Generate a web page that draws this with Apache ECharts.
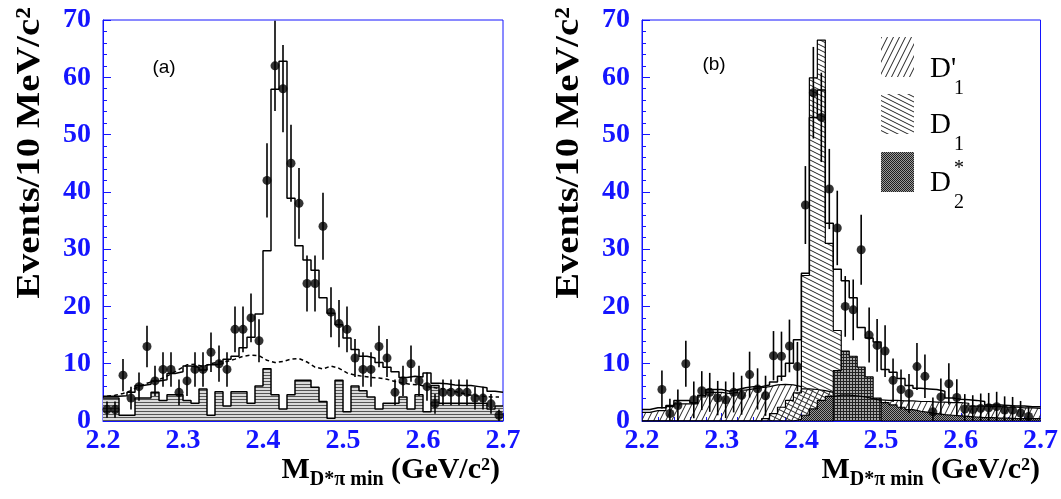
<!DOCTYPE html>
<html>
<head>
<meta charset="utf-8">
<script src="https://cdn.jsdelivr.net/npm/echarts@6/dist/echarts.min.js"></script>
<style>
  html, body { margin: 0; padding: 0; background: #fff; }
  #chart { width: 1061px; height: 499px; }
</style>
</head>
<body>
<div id="chart"></div>
<script>
// 50 bins of 10 MeV between 2.2 and 2.7 GeV/c^2
const binLow = Array.from({ length: 50 }, (_, i) => +(2.2 + 0.01 * i).toFixed(2));
const yTicks = [0, 10, 20, 30, 40, 50, 60, 70];
const xTicks = [2.2, 2.3, 2.4, 2.5, 2.6, 2.7];

// panel (a)
const dataA = [2, 2, 8, 4, 6, 13, 7, 9, 9, 5, 7, 9, 9, 12, 10, 9, 16, 16, 18, 14,
  42, 62, 58, 45, 38, 24, 24, 34, 19, 17, 16, 11, 9, 9, 13, 11, 5, 7, 10, 7,
  6, 3, 5, 5, 5, 5, 4, 4, 3, 1];
const fitA = [4.3, 4.3, 4.4, 5.0, 6.2, 6.4, 7.0, 7.2, 8.3, 8.6, 9.6, 9.4, 8.9, 9.8, 10.0, 10.8, 11.3, 12.8, 14.6, 18.7,
  29.7, 57.9, 62.8, 38.9, 30.6, 28.1, 26.3, 21.5, 18.8, 16.8, 14.5, 12.5, 11.3, 11.0, 10.2, 9.4, 8.6, 7.6, 7.8, 7.7,
  8.4, 6.6, 6.5, 6.3, 6.2, 6.2, 6.0, 5.8, 5.2, 5.0];
const dashA = [4.3, 4.5, 4.8, 5.3, 6.0, 6.6, 7.0, 7.5, 8.2, 9.0, 9.8, 9.9, 9.5, 10.0, 10.3, 10.4, 10.8, 11.3, 11.5, 11.4,
  10.6, 10.2, 10.4, 10.8, 10.9, 10.3, 9.4, 9.1, 9.6, 9.2, 8.4, 8.0, 7.8, 7.6, 7.5, 7.3, 6.9, 6.6, 6.4, 6.3,
  6.0, 5.8, 5.6, 5.3, 5.0, 4.6, 4.4, 4.3, 4.2, 4.2];
const sideA = [4, 4, 1, 1, 4, 4, 5, 3.6, 4.6, 4.6, 3.6, 3.1, 5.6, 1, 5.1, 2.6, 5.1, 5.1, 3.1, 6.1,
  9.1, 4.6, 2.1, 4.6, 7.1, 7.1, 5.9, 3.4, 0.5, 7.1, 1.6, 6.1, 5.3, 4.2, 2.1, 3.1, 3.1, 4.2, 2.1, 4.6,
  1.6, 6.2, 3.1, 3.1, 3.1, 3.1, 3.1, 3.1, 2.1, 2.6];
const errA = dataA.map(Math.sqrt);

// panel (b)
const dataB = [null, null, 5.5, 1.3, 2.7, 10, 3.7, 5.3, 5.0, 4.0, 3.7, 5.0, 4.5, 8.1, 5.6, 4.4, 11.4, 11.3, 13.1, 9.5,
  37.7, 57.3, 53.0, 40.5, 33.7, 20.0, 19.4, 29.9, 15.0, 13.2, 12.2, 7.1, 5.5, 4.8, 9.5, 7.8, 1.6, 4.2, 6.5, 4.1,
  2.1, 2.0, 2.2, 2.3, 2.5, 1.9, 1.9, 1.4, 0.8, null];
const errB = [null, null, 3.3, 2.6, 2.8, 4.0, 3.2, 3.4, 3.4, 3.0, 3.2, 3.5, 3.4, 4.0, 3.6, 3.5, 4.3, 4.3, 4.6, 4.3,
  6.8, 8.0, 7.8, 7.0, 6.5, 5.3, 5.3, 6.1, 4.8, 4.6, 4.5, 3.8, 3.5, 3.4, 4.1, 3.8, 2.5, 3.2, 3.6, 3.2,
  2.6, 2.5, 2.6, 2.6, 2.6, 2.4, 2.3, 2.1, 1.6, null];
const fitB = [2.0, 2.3, 2.3, 2.7, 3.6, 3.6, 3.2, 4.5, 5.5, 5.5, 5.2, 5.5, 5.8, 6.0, 6.0, 6.3, 6.8, 7.8, 10.1, 14.2,
  25.8, 53.0, 57.8, 34.5, 26.5, 24.5, 21.5, 16.3, 14.5, 13.8, 9.0, 8.5, 7.4, 6.2, 5.7, 5.6, 5.5, 5.2, 4.0, 3.8,
  3.7, 3.6, 3.4, 2.8, 2.8, 2.7, 2.6, 2.6, 2.5, 2.5];
const d1PrimeB = [1.5, 1.8, 1.8, 2.5, 3.0, 3.0, 3.0, 4.2, 5.0, 5.0, 4.8, 5.0, 5.4, 5.6, 5.8, 6.0, 6.3, 6.4, 6.3, 6.0,
  5.6, 5.5, 5.3, 5.0, 4.6, 4.3, 4.0, 3.9, 3.8, 3.7, 3.6, 3.6, 3.5, 3.5, 3.4, 3.4, 3.3, 3.3, 3.2, 3.2,
  3.1, 2.6, 2.6, 2.5, 2.5, 2.4, 2.4, 2.3, 2.3, 2.2];
const d1B = [0, 0, 0, 0, 0, 0, 0, 0, 0, 0, 0, 0, 0, 0, 0, 0.4, 1.3, 2.4, 3.6, 4.9,
  25.4, 59.9, 66.5, 31.0, 15.8, 4.0, 2.5, 1.8, 1.3, 1.0, 0.8, 0.6, 0.5, 0.4, 0.4, 0.3, 0.3, 0.3, 0.2, 0.2,
  0.2, 0.2, 0.2, 0.2, 0.2, 0.2, 0.2, 0.2, 0.2, 0.2];
const d2BroadB = [0, 0, 0, 0, 0, 0, 0, 0, 0, 0, 0, 0, 0, 0, 0, 0, 0, 0, 0, 0.3,
  1.0, 2.1, 3.6, 4.3, 4.5, 4.5, 4.4, 4.2, 3.9, 3.6, 3.2, 2.8, 2.4, 2.0, 1.7, 1.5, 1.3, 1.1, 1.0, 0.9,
  0.8, 0.7, 0.6, 0.6, 0.5, 0.5, 0.4, 0.4, 0.4, 0.4];
const d2PeakB = [0, 0, 0, 0, 0, 0, 0, 0, 0, 0, 0, 0, 0, 0, 0, 0, 0, 0, 0, 0,
  0, 0, 0, 0, 8.8, 12.2, 11.3, 9.4, 7.7, 4.0, 0, 0, 0, 0, 0, 0, 0, 0, 0, 0,
  0, 0, 0, 0, 0, 0, 0, 0, 0, 0];

const BLUE = '#1414ff';
const SERIF = '"Liberation Serif", "DejaVu Serif", serif';

// hatch patterns drawn on small canvases
function pattern(w, h, paint) {
  const c = document.createElement('canvas');
  c.width = w; c.height = h;
  paint(c.getContext('2d'), w, h);
  return { image: c, repeat: 'repeat' };
}
const grayFill = pattern(4, 3, (g, w, h) => {
  g.fillStyle = '#dadada'; g.fillRect(0, 0, w, h);
  g.fillStyle = '#555'; g.fillRect(0, 0, w, 1);
});
const slashFill = pattern(6, 12, (g, w, h) => {
  g.strokeStyle = '#222'; g.lineWidth = 1; g.beginPath();
  for (const o of [-w, 0, w]) { g.moveTo(o, h); g.lineTo(o + w, 0); }
  g.stroke();
});
const backFill = pattern(10, 5, (g, w, h) => {
  g.strokeStyle = '#222'; g.lineWidth = 1; g.beginPath();
  for (const o of [-h, 0, h]) { g.moveTo(0, o); g.lineTo(w, o + h); }
  g.stroke();
});
const darkFine = pattern(2, 2, (g) => {
  g.fillStyle = '#9a9a9a'; g.fillRect(0, 0, 2, 2);
  g.fillStyle = '#1e1e1e'; g.fillRect(0, 0, 1, 1); g.fillRect(1, 1, 1, 1);
});
const darkGrid = pattern(3, 3, (g) => {
  g.fillStyle = '#a8a8a8'; g.fillRect(0, 0, 3, 3);
  g.fillStyle = '#222'; g.fillRect(0, 0, 3, 1); g.fillRect(0, 0, 1, 3);
});

function hist(vals, gi, fill, z, width) {
  const pts = binLow.map((x, i) => [x, vals[i]]);
  pts.push([2.7, vals[vals.length - 1]]);
  return {
    type: 'line', xAxisIndex: gi, yAxisIndex: gi, step: 'end', data: pts,
    symbol: 'none', silent: true, z: z,
    lineStyle: { color: '#000', width: width || 1.5 },
    areaStyle: fill ? { color: fill, opacity: 1 } : undefined
  };
}

function dashed(vals, gi) {
  return {
    type: 'line', xAxisIndex: gi, yAxisIndex: gi, data: binLow.map((x, i) => [x + 0.005, vals[i]]),
    symbol: 'none', silent: true, z: 6,
    lineStyle: { color: '#000', width: 1.5, type: [4, 3] }
  };
}

function points(vals, errs, gi) {
  const d = [];
  vals.forEach((v, i) => { if (v != null) d.push([binLow[i] + 0.005, v, errs[i]]); });
  return [{
    type: 'custom', xAxisIndex: gi, yAxisIndex: gi, data: d, clip: true, z: 8, silent: true,
    encode: { x: 0, y: 1 },
    renderItem: (p, api) => {
      const a = api.coord([api.value(0), api.value(1) - api.value(2)]);
      const b = api.coord([api.value(0), api.value(1) + api.value(2)]);
      return { type: 'line', shape: { x1: a[0], y1: a[1], x2: b[0], y2: b[1] },
        style: { stroke: '#000', lineWidth: 1.6 } };
    }
  }, {
    type: 'scatter', xAxisIndex: gi, yAxisIndex: gi, data: d.map(q => [q[0], q[1]]),
    symbolSize: 9, itemStyle: { color: '#000' }, z: 9, silent: true
  }];
}

const tickLabel = { color: BLUE, fontFamily: SERIF, fontWeight: 'bold', fontSize: 28 };
function xAxis(gi) {
  return {
    type: 'value', gridIndex: gi, min: xTicks[0], max: xTicks[xTicks.length - 1], interval: 0.1,
    axisLine: { show: true, lineStyle: { color: BLUE, width: 1 } },
    axisTick: { show: true, inside: true, length: 8, lineStyle: { color: BLUE } },
    minorTick: { show: true, splitNumber: 5, length: 4, lineStyle: { color: BLUE } },
    splitLine: { show: false },
    axisLabel: Object.assign({ margin: 6, formatter: v => v.toFixed(1) }, tickLabel)
  };
}
function yAxis(gi) {
  return {
    type: 'value', gridIndex: gi, min: yTicks[0], max: yTicks[yTicks.length - 1], interval: 10,
    axisLine: { show: true, lineStyle: { color: BLUE, width: 1 } },
    axisTick: { show: true, inside: true, length: 8, lineStyle: { color: BLUE } },
    minorTick: { show: true, splitNumber: 5, length: 4, lineStyle: { color: BLUE } },
    splitLine: { show: false },
    axisLabel: Object.assign({ margin: 12 }, tickLabel)
  };
}

// text runs laid out with canvas metrics (for sub/superscripts)
const measure = document.createElement('canvas').getContext('2d');
function textRun(pieces, xRight, y) {
  const widths = pieces.map(p => { measure.font = p.font; return measure.measureText(p.t).width; });
  let x = xRight - widths.reduce((s, w) => s + w, 0);
  return pieces.map((p, i) => {
    const el = { type: 'text', x: x, y: y + (p.dy || 0), z: 20,
      style: { text: p.t, font: p.font, fill: '#000', align: 'left', verticalAlign: 'middle' } };
    x += widths[i];
    return el;
  });
}
const big = 'bold 30px ' + SERIF;
const small = 'bold 20px ' + SERIF;
function xTitle(xRight) {
  return textRun([{ t: 'M', font: big }, { t: 'D*π min', font: small, dy: 10 }, { t: ' (GeV/c²)', font: big }], xRight, 470);
}
function yTitle(x) {
  return { type: 'text', x: x, y: 153, rotation: Math.PI / 2, scaleX: 1.17, z: 20,
    style: { text: 'Events/10 MeV/c²', font: 'bold 33px ' + SERIF, fill: '#000', align: 'center', verticalAlign: 'middle' } };
}
function legendLabel(x, y, main, sub, sup) {
  const els = [{ type: 'text', x: x, y: y, z: 20, style: { text: main, font: '29px ' + SERIF, fill: '#000', align: 'left', verticalAlign: 'middle' } }];
  if (sub) els.push({ type: 'text', x: x + 24, y: y + 20, z: 20, style: { text: sub, font: '20px ' + SERIF, fill: '#000', align: 'left', verticalAlign: 'middle' } });
  if (sup) els.push({ type: 'text', x: x + 24, y: y - 14, z: 20, style: { text: sup, font: '20px ' + SERIF, fill: '#000', align: 'left', verticalAlign: 'middle' } });
  return els;
}

const chart = echarts.init(document.getElementById('chart'), null, { renderer: 'canvas' });
chart.setOption({
  animation: false,
  backgroundColor: '#fff',
  grid: [
    { left: 103, top: 20, width: 400, height: 401, show: true, borderColor: BLUE, borderWidth: 1 },
    { left: 642, top: 20, width: 400, height: 401, show: true, borderColor: BLUE, borderWidth: 1 }
  ],
  xAxis: [xAxis(0), xAxis(1)],
  yAxis: [yAxis(0), yAxis(1)],
  series: [
    hist(sideA, 0, grayFill, 3, 1.5),
    hist(fitA, 0, null, 5, 1.5),
    dashed(dashA, 0),
    ...points(dataA, errA, 0),
    hist(d1PrimeB, 1, slashFill, 2, 1.2),
    hist(d1B, 1, backFill, 3, 1.2),
    hist(d2BroadB, 1, darkFine, 4, 1.2),
    hist(d2PeakB, 1, darkGrid, 4, 1.2),
    hist(fitB, 1, null, 5, 1.5),
    ...points(dataB, errB, 1)
  ],
  graphic: [
    yTitle(30), yTitle(569),
    ...xTitle(500), ...xTitle(1040),
    { type: 'text', x: 164, y: 68, z: 20, style: { text: '(a)', font: '19px "Liberation Sans", Arial, sans-serif', fill: '#000', align: 'center', verticalAlign: 'middle' } },
    { type: 'text', x: 714, y: 65, z: 20, style: { text: '(b)', font: '19px "Liberation Sans", Arial, sans-serif', fill: '#000', align: 'center', verticalAlign: 'middle' } },
    { type: 'rect', shape: { x: 881, y: 37, width: 33, height: 40 }, z: 20, style: { fill: slashFill } },
    { type: 'rect', shape: { x: 881, y: 94, width: 33, height: 40 }, z: 20, style: { fill: backFill } },
    { type: 'rect', shape: { x: 881, y: 152, width: 33, height: 40 }, z: 20, style: { fill: darkFine } },
    ...legendLabel(930, 69, "D'", '1'),
    ...legendLabel(930, 125, 'D', '1'),
    ...legendLabel(930, 183, 'D', '2', '*')
  ]
});
</script>
</body>
</html>
